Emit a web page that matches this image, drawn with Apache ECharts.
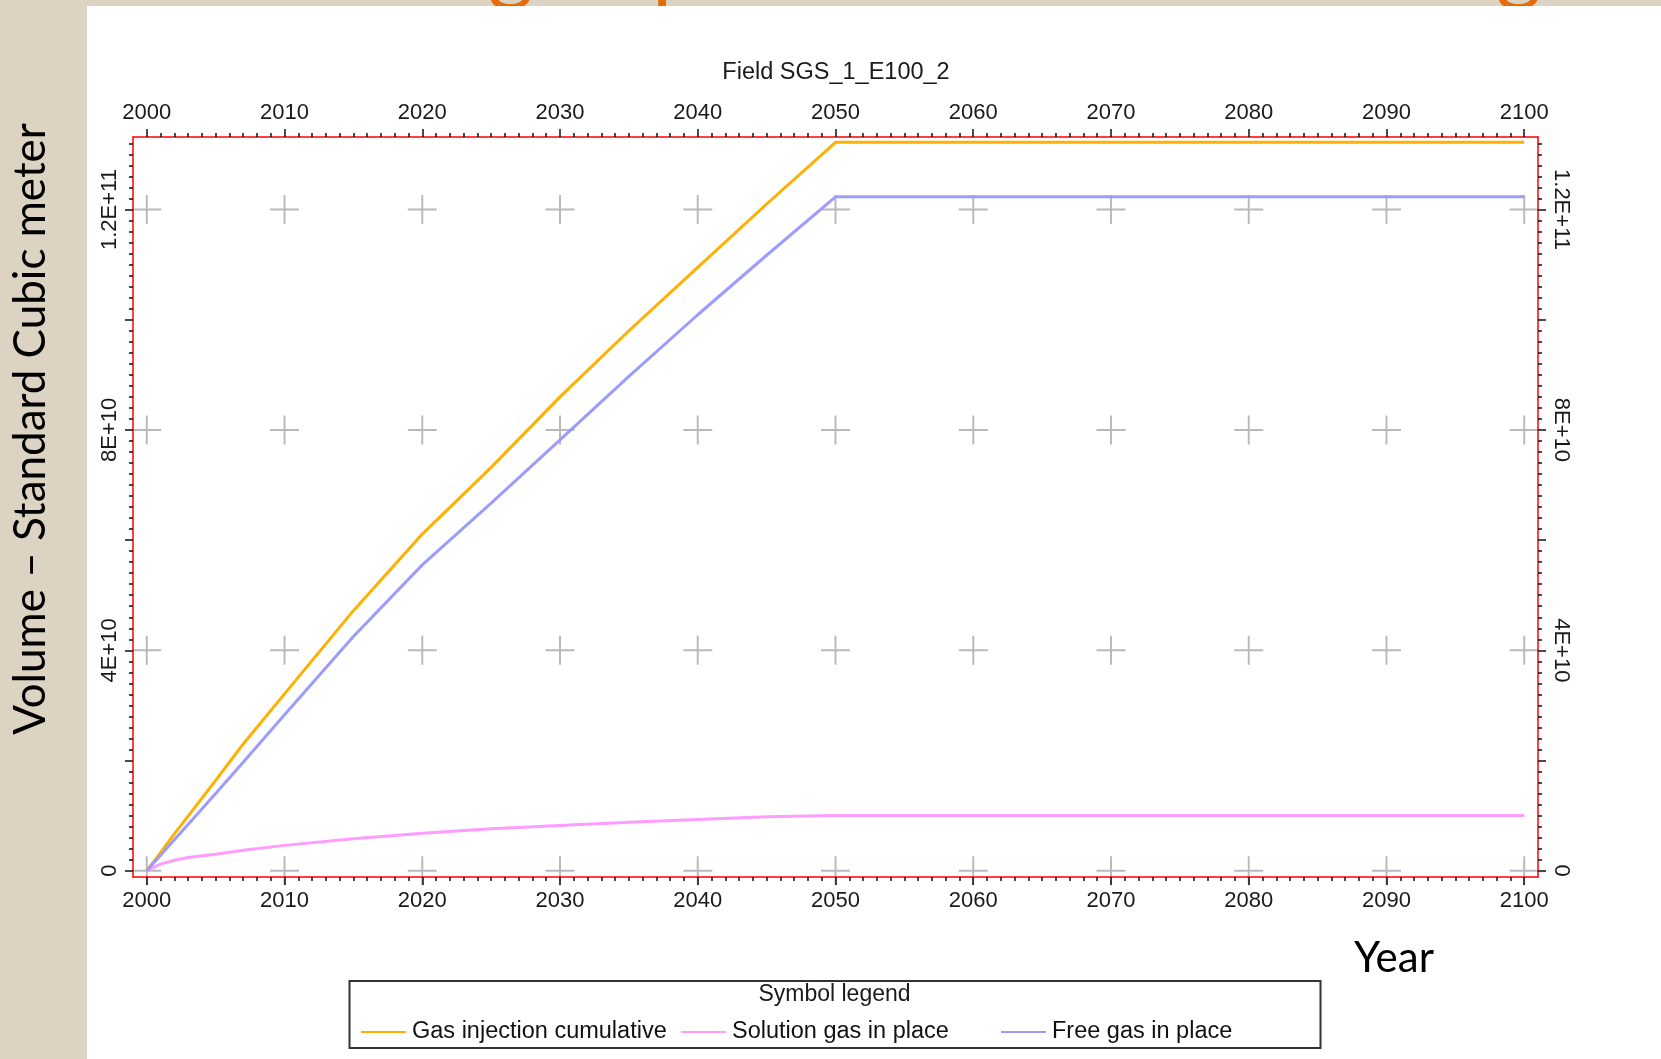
<!DOCTYPE html>
<html>
<head>
<meta charset="utf-8">
<script src="https://cdn.jsdelivr.net/npm/echarts@6/dist/echarts.min.js"></script>
<style>
html,body{margin:0;padding:0;background:#dcd3c3;}
#c{width:1661px;height:1059px;}
</style>
</head>
<body>
<div id="c"></div>
<script>
// ---------- data ----------
const years        = [2000, 2001, 2002, 2003, 2005, 2007, 2010, 2015, 2020, 2025, 2030, 2035, 2040, 2045, 2050, 2100];
const gasInjection = [0, 0.33e10, 0.67e10, 0.99e10, 1.64e10, 2.30e10, 3.21e10, 4.72e10, 6.11e10, 7.32e10, 8.60e10, 9.80e10, 10.95e10, 12.10e10, 13.22e10, 13.22e10];
const solutionGas  = [0, 0.12e10, 0.19e10, 0.24e10, 0.30e10, 0.37e10, 0.46e10, 0.58e10, 0.68e10, 0.76e10, 0.82e10, 0.88e10, 0.93e10, 0.98e10, 1.00e10, 1.00e10];
const freeGas      = [0, 0.28e10, 0.56e10, 0.84e10, 1.40e10, 1.97e10, 2.83e10, 4.25e10, 5.55e10, 6.67e10, 7.82e10, 8.97e10, 10.09e10, 11.17e10, 12.23e10, 12.23e10];
const seriesNames  = ['Gas injection cumulative', 'Solution gas in place', 'Free gas in place'];
const seriesColors = ['#ffb000', '#ff9cff', '#9c9cff'];

const xTickValues  = [2000, 2010, 2020, 2030, 2040, 2050, 2060, 2070, 2080, 2090, 2100];
const xTickLabels  = ['2000', '2010', '2020', '2030', '2040', '2050', '2060', '2070', '2080', '2090', '2100'];
const yTickValues  = [0, 2e10, 4e10, 6e10, 8e10, 1e11, 1.2e11];
const yLabelValues = [0, 4e10, 8e10, 1.2e11];
const yLabelTexts  = ['0', '4E+10', '8E+10', '1.2E+11'];

const chartTitle   = 'Field SGS_1_E100_2';
const legendTitle  = 'Symbol legend';
const yAxisTitle   = 'Volume \u2013 Standard Cubic meter';
const xAxisTitle   = 'Year';

// ---------- helpers ----------
const font = "'Liberation Sans', Arial, sans-serif";
const bigFont = "Lato, 'Open Sans', sans-serif";
const labelStyle = { fontFamily: font, fontSize: 22, color: '#1a1a1a' };

function makeX(pos) {
  return {
    type: 'value', position: pos, min: 1999, max: 2101, splitNumber: 10, z: 5,
    axisLine: { show: true, onZero: false, lineStyle: { color: '#ff0000', width: 1.5 } },
    axisTick: { show: true, customValues: xTickValues, length: 8, lineStyle: { color: '#111', width: 1.5 } },
    minorTick: { show: true, splitNumber: 10, length: 4, lineStyle: { color: '#111', width: 1.5 } },
    axisLabel: Object.assign({ show: true, customValues: xTickValues, margin: 13,
      formatter: v => { const i = xTickValues.indexOf(v); return i >= 0 ? xTickLabels[i] : ''; } }, labelStyle),
    splitLine: { show: false }, minorSplitLine: { show: false }
  };
}
function makeY(pos) {
  return {
    type: 'value', position: pos, min: -1.14e9, max: 1.3316e11, splitNumber: 7, z: 5,
    axisLine: { show: true, onZero: false, lineStyle: { color: '#ff0000', width: 1.5 } },
    axisTick: { show: true, customValues: yTickValues, length: 8, lineStyle: { color: '#111', width: 1.5 } },
    minorTick: { show: true, splitNumber: 10, length: 4, lineStyle: { color: '#111', width: 1.5 } },
    axisLabel: Object.assign({ show: true, customValues: yLabelValues, margin: 12,
      rotate: pos === 'left' ? 90 : -90,
      formatter: v => { const i = yLabelValues.indexOf(v); return i >= 0 ? yLabelTexts[i] : ''; } }, labelStyle),
    splitLine: { show: false }, minorSplitLine: { show: false }
  };
}

const crosses = [];
xTickValues.forEach(x => yLabelValues.forEach(y => crosses.push([x, y])));

const lineSeries = [gasInjection, solutionGas, freeGas].map((vals, k) => ({
  type: 'line', name: seriesNames[k],
  data: years.map((yr, i) => [yr, vals[i]]),
  symbol: 'none', showSymbol: false, animation: false,
  lineStyle: { color: seriesColors[k], width: 3 },
  itemStyle: { color: seriesColors[k] },
  z: 3
}));

const legendLefts = [361, 681, 1001];

const option = {
  backgroundColor: '#dcd3c3',
  animation: false,
  grid: { left: 133, top: 137, right: 123, bottom: 182, containLabel: false, outerBoundsMode: 'none' },
  xAxis: [makeX('bottom'), makeX('top')],
  yAxis: [makeY('left'), makeY('right')],
  legend: seriesNames.map((n, i) => ({
    data: [n], left: legendLefts[i], top: 1020, orient: 'horizontal',
    icon: 'rect', itemWidth: 45, itemHeight: 2, itemGap: 0, padding: 0,
    selectedMode: false,
    textStyle: { fontFamily: font, fontSize: 23.5, color: '#111', padding: [0, 0, 0, 1] }
  })),
  graphic: [
    // cut-off slide title (only descenders visible above the white panel)
    { type: 'text', x: 488, y: 9, z: -20, style: { text: 'g', font: '88px ' + bigFont, fill: '#e46c0a', verticalAlign: 'bottom' } },
    { type: 'text', x: 652, y: 9, z: -20, style: { text: 'p', font: '88px ' + bigFont, fill: '#e46c0a', verticalAlign: 'bottom' } },
    { type: 'text', x: 1496, y: 9, z: -20, style: { text: 'g', font: '88px ' + bigFont, fill: '#e46c0a', verticalAlign: 'bottom' } },
    // white slide panel
    { type: 'rect', z: -10, shape: { x: 87, y: 6, width: 1574, height: 1053 }, style: { fill: '#ffffff' } },
    // chart title
    { type: 'text', z: 2, x: 836, y: 73, style: { text: chartTitle, font: '23.5px ' + font, fill: '#1a1a1a', align: 'center', verticalAlign: 'middle' } },
    // axis titles
    { type: 'text', z: 2, x: 31, y: 429, rotation: Math.PI / 2, style: { text: yAxisTitle, font: '44px ' + bigFont, fill: '#000', align: 'center', verticalAlign: 'middle' } },
    { type: 'text', z: 2, x: 1354, y: 958, style: { text: xAxisTitle, font: '42px ' + bigFont, fill: '#000', align: 'left', verticalAlign: 'middle' } },
    // legend box
    { type: 'rect', z: 2, shape: { x: 349.5, y: 981, width: 971, height: 67 }, style: { fill: 'none', stroke: '#333', lineWidth: 2 } },
    { type: 'text', z: 2, x: 834.5, y: 995, style: { text: legendTitle, font: '23px ' + font, fill: '#1a1a1a', align: 'center', verticalAlign: 'middle' } }
  ],
  series: [
    {
      type: 'scatter', name: 'grid-cross', data: crosses, silent: true, z: 1,
      symbol: 'path://M14,0H16V14H30V16H16V30H14V16H0V14H14Z', symbolSize: 29,
      itemStyle: { color: '#a8a8a8' }, animation: false
    }
  ].concat(lineSeries)
};

const chart = echarts.init(document.getElementById('c'), null, { renderer: 'canvas' });
chart.setOption(option);
</script>
</body>
</html>
